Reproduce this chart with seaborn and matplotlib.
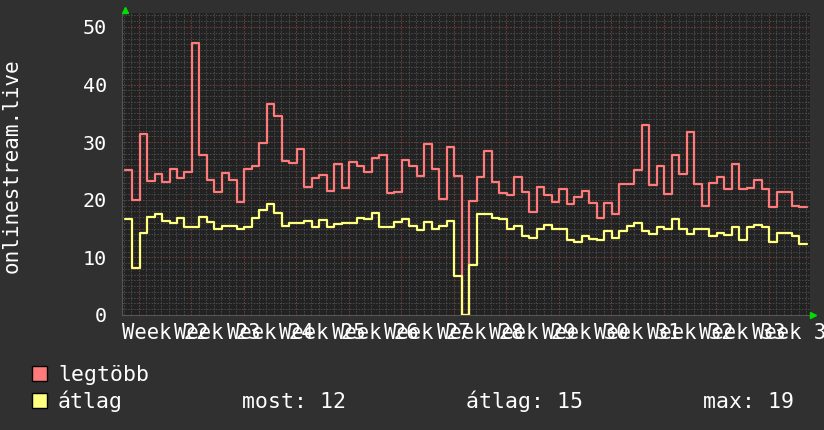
import numpy as np
import pandas as pd
import matplotlib
matplotlib.use("Agg")
import matplotlib.pyplot as plt
import matplotlib.transforms as mtransforms
from matplotlib.patches import Rectangle
import seaborn as sns

# ---- data (daily values) ----
legtobb = [25.2, 20.0, 31.4, 23.3, 24.4, 23.1, 25.3, 23.8, 24.9, 47.3, 27.8, 23.4, 21.4,
           24.7, 23.4, 19.6, 25.3, 25.9, 29.9, 36.6, 34.6, 26.8, 26.4, 28.8, 22.3, 23.8,
           24.3, 21.5, 26.3, 22.0, 26.5, 25.8, 24.9, 27.2, 27.8, 21.2, 21.4, 26.9, 25.8,
           24.2, 29.7, 25.3, 20.1, 29.2, 24.2, 0.0, 19.8, 24.0, 28.5, 23.1, 21.2, 20.8,
           24.0, 21.3, 17.8, 22.3, 20.8, 19.7, 21.9, 19.2, 20.5, 21.5, 19.5, 16.8, 19.5, 17.5,
           22.7, 22.7, 25.2, 33.0, 22.5, 25.9, 21.0, 27.8, 24.5, 31.7, 22.7, 18.9, 23.0,
           24.0, 21.9, 26.2, 21.9, 22.1, 23.4, 21.9, 18.8, 21.3, 21.3, 19.0, 18.75]
atlag = [16.7, 8.1, 14.2, 17.1, 17.5, 16.3, 15.9, 16.8, 15.2, 15.2, 17.0, 16.1, 15.0,
         15.5, 15.5, 14.9, 15.3, 16.8, 18.3, 19.2, 17.7, 15.5, 15.9, 15.9, 16.3, 15.3,
         16.5, 15.3, 15.8, 16.0, 15.9, 16.8, 16.7, 17.7, 15.2, 15.3, 16.1, 16.7, 15.5,
         14.8, 16.1, 14.9, 15.5, 16.4, 6.7, 0.0, 8.7, 17.5, 17.6, 16.8, 16.7, 14.9,
         15.5, 13.7, 13.4, 15.0, 15.6, 14.9, 15.0, 13.1, 12.6, 13.7, 13.2, 13.0, 14.6, 13.3,
         14.6, 15.5, 16.0, 14.5, 14.0, 15.2, 15.0, 16.7, 15.0, 14.0, 14.9, 15.0, 13.7,
         14.3, 13.9, 15.2, 13.1, 15.2, 15.7, 15.3, 12.7, 14.2, 14.2, 13.7, 12.3]
week_labels = ["Week 22", "Week 23", "Week 24", "Week 25", "Week 26", "Week 27", "Week 28",
               "Week 29", "Week 30", "Week 31", "Week 32", "Week 33", "Week 34"]
y_ticks = [0, 10, 20, 30, 40, 50]
series_names = ["legtöbb", "átlag"]
stats_labels = ["most: 12", "átlag: 15", "max: 19"]
y_label = "onlinestream.live"

# ---- styles ----
BG = "#303030"
CANVAS = "#222222"
FG = "#ffffff"
RED = "#ff7a7a"
YEL = "#ffff80"
MINOR = "#4a4a4a"
MAJOR = "#6e3a3a"
W, H = 824, 430
L, R, T, B = 121.7, 810.0, 13.0, 315.0
PX_PER_DAY = 7.5
WEEK_OFFSET = 1.867  # first weekly grid line, in days

sns.set_theme(style="dark")
plt.rcParams["font.family"] = ["DejaVu Sans Mono", "DejaVu Sans"]

fig = plt.figure(figsize=(W / 100, H / 100), dpi=100, facecolor=BG)
ax = fig.add_axes([L / W, 1 - B / H, (R - L) / W, (B - T) / H])
ax.set_facecolor(CANVAS)

n = len(legtobb)
df = pd.DataFrame({
    "x": np.arange(n + 1),
    series_names[0]: legtobb + [legtobb[-1]],
    series_names[1]: atlag + [atlag[-1]],
})
long = df.melt(id_vars="x", var_name="series", value_name="v")
sns.lineplot(data=long, x="x", y="v", hue="series", hue_order=series_names,
             palette={series_names[0]: RED, series_names[1]: YEL},
             estimator=None, drawstyle="steps-post", linewidth=1.6,
             legend=False, ax=ax, zorder=3)

x0 = (L - 124.5) / PX_PER_DAY
x1 = (R - 124.5) / PX_PER_DAY
ax.set_xlim(x0, x1)
ax.set_ylim(0, (B - T) / ((B - 27.0) / 50.0))

# grid
major_x = np.arange(WEEK_OFFSET, x1, 7)
minor_x = np.arange(WEEK_OFFSET - 2, x1, 1)
minor_x = minor_x[minor_x > x0]
ax.set_xticks(major_x)
ax.set_xticks(minor_x, minor=True)
ax.set_yticks(y_ticks)
ax.set_yticks(np.arange(0, 53, 1), minor=True)
ax.grid(False)
for xv in minor_x:
    ax.axvline(xv, color=MINOR, lw=0.75, ls=(0, (1.4, 1.4)), zorder=1)
for yv in np.arange(1, 53, 1):
    ax.axhline(yv, color=MINOR, lw=0.75, ls=(0, (1.4, 1.4)), zorder=1)
for xv in major_x:
    ax.axvline(xv, color=MAJOR, lw=0.75, ls=(0, (1.4, 1.4)), zorder=2)
for yv in y_ticks[1:]:
    ax.axhline(yv, color=MAJOR, lw=0.75, ls=(0, (1.4, 1.4)), zorder=2)

ax.set_xticklabels([])
ax.set_yticklabels([str(v) for v in y_ticks], color=FG, fontsize=14.5)
ax.tick_params(axis="both", which="both", length=0)
ax.tick_params(axis="y", pad=10.5)
ax.set_xlabel("")
ax.set_ylabel("")
for s in ["top", "right"]:
    ax.spines[s].set_visible(False)
for s in ["left", "bottom"]:
    ax.spines[s].set_color("#555555")
    ax.spines[s].set_linewidth(0.8)

# week labels (overlapping, as in the original)
blend = mtransforms.blended_transform_factory(ax.transData, fig.transFigure)
for i, lab in enumerate(week_labels):
    ax.text(major_x[0] - 2.24 + 7 * i, 1 - 339 / H, lab, transform=blend,
            ha="left", va="baseline", color=FG, fontsize=14.8, clip_on=False)

# y label
fig.text(12 / W, 1 - 166 / H, y_label, rotation=90, ha="center", va="center",
         color=FG, fontsize=15)

# green arrows
ax.plot([125 / W], [1 - 10 / H], marker="^", color="#00dd00", ms=5,
        transform=fig.transFigure, clip_on=False, zorder=5)
ax.plot([813 / W], [1 - 315 / H], marker=">", color="#00dd00", ms=5,
        transform=fig.transFigure, clip_on=False, zorder=5)

# legend
for i, (name, col) in enumerate(zip(series_names, [RED, YEL])):
    ytop = 366 + 27 * i
    fig.patches.append(Rectangle((32 / W, 1 - (ytop + 15) / H), 15 / W, 15 / H,
                                 transform=fig.transFigure, facecolor=col,
                                 edgecolor="black", linewidth=1.0))
    fig.text(58 / W, 1 - (381 + 27 * i) / H, name, ha="left", va="baseline",
             color=FG, fontsize=15.5)
for xpos, lab in zip([242, 466, 703], stats_labels):
    fig.text(xpos / W, 1 - 408 / H, lab, ha="left", va="baseline", color=FG, fontsize=15.5)

fig.savefig("out.png", dpi=100, facecolor=BG)
